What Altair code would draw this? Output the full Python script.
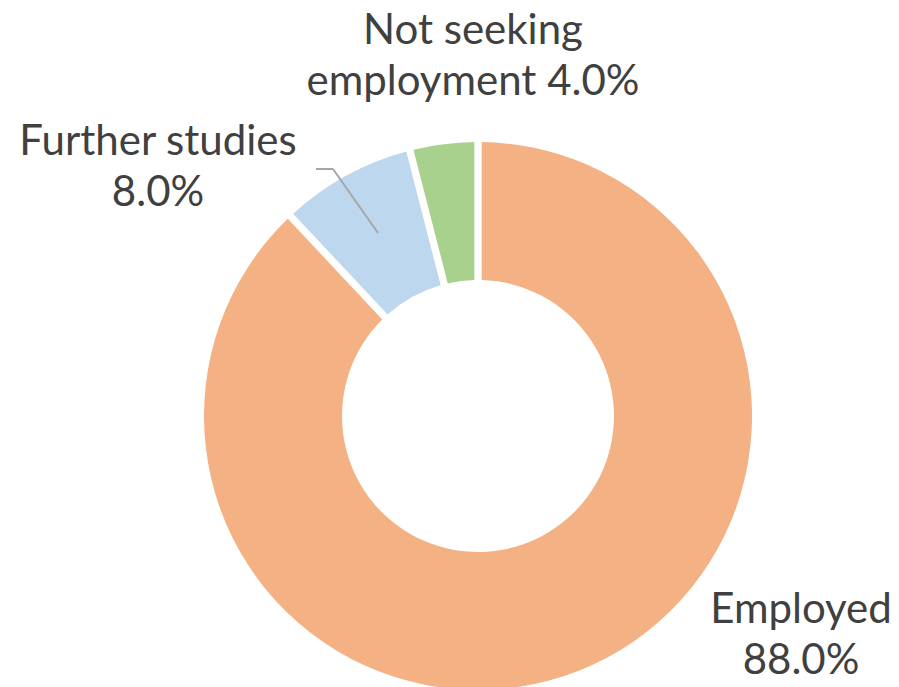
import altair as alt
import pandas as pd

categories = ["Employed", "Further studies", "Not seeking employment"]
values = [88.0, 8.0, 4.0]
labels = ["Employed\n88.0%", "Further studies\n8.0%", "Not seeking\nemployment 4.0%"]
colors = ["#F4B183", "#BDD7EE", "#A9D18E"]

df = pd.DataFrame({
    "category": categories,
    "value": values,
    "label": labels,
    "order": list(range(len(categories))),
})

CX, CY = 470, 408
FONT = "Lato"
TXT = "#404040"

base = alt.Chart(df)

donut = base.mark_arc(outerRadius=274, innerRadius=136, padAngle=0.024).encode(
    theta=alt.Theta("value:Q", stack=True),
    order=alt.Order("order:Q"),
    color=alt.Color("category:N", sort=categories,
                    scale=alt.Scale(domain=categories, range=colors), legend=None),
    x=alt.value(CX),
    y=alt.value(CY),
)

def label_layer(cat, x, y):
    return base.transform_filter(alt.datum.category == cat).mark_text(
        font=FONT, fontSize=42, color=TXT, align="center", baseline="alphabetic",
        lineBreak="\n", lineHeight=51,
    ).encode(text="label:N", x=alt.value(x), y=alt.value(y))

lab_emp = label_layer("Employed", 793, 615)
lab_fs = label_layer("Further studies", 150, 147)
lab_ns = label_layer("Not seeking employment", 465, 36)

leader1 = base.transform_filter(alt.datum.category == "Further studies").mark_rule(
    color="#A6A6A6", strokeWidth=2).encode(
    x=alt.value(308), x2=alt.value(325), y=alt.value(161), y2=alt.value(161))
leader2 = base.transform_filter(alt.datum.category == "Further studies").mark_rule(
    color="#A6A6A6", strokeWidth=2).encode(
    x=alt.value(325), x2=alt.value(370), y=alt.value(161), y2=alt.value(225))

chart = alt.layer(donut, leader1, leader2, lab_emp, lab_fs, lab_ns).properties(
    width=883, height=679,
    autosize="none",
    padding=0,
    background="white",
).configure_view(stroke="transparent", strokeWidth=0)

chart.save("out.html", embed_options={"renderer": "svg", "actions": False})
